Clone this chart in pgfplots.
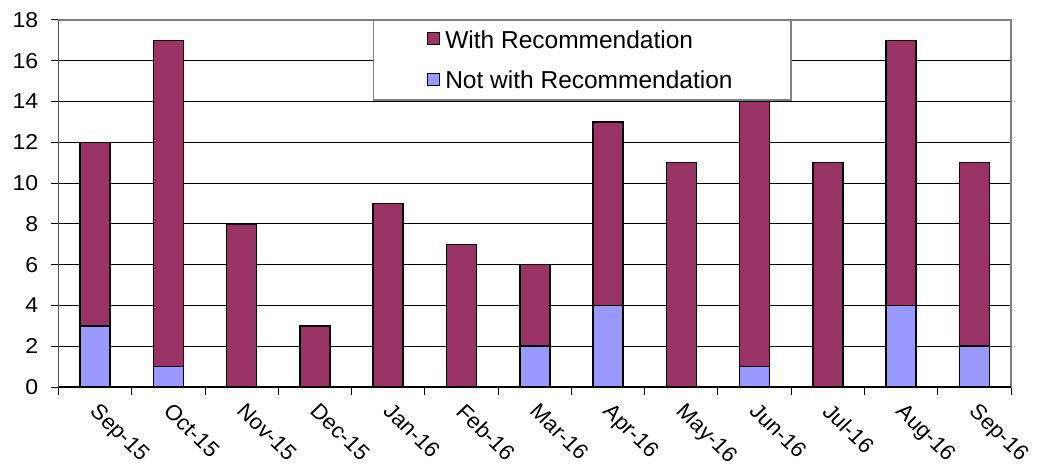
\documentclass[border=0pt]{standalone}
\usepackage{fontspec}
\setmainfont{Liberation Sans}
\usepackage{pgfplots}
\pgfplotsset{compat=1.18}
\definecolor{wrec}{HTML}{993366}
\definecolor{nrec}{HTML}{9999FF}
\begin{document}
\begin{tikzpicture}
\begin{axis}[
  scale only axis, width=952.5bp, height=367bp,
  xmin=-0.5, xmax=12.5, ymin=0, ymax=18,
  ybar stacked, bar width=30bp,
  ytick={0,2,...,18},
  xtick={-0.5,0.5,...,12.5}, xticklabels={},
  extra x ticks={0,1,2,3,4,5,6,7,8,9,10,11,12},
  extra x tick labels={Sep-15,Oct-15,Nov-15,Dec-15,Jan-16,Feb-16,Mar-16,Apr-16,May-16,Jun-16,Jul-16,Aug-16,Sep-16},
  extra x tick style={major tick length=0pt},
  tick align=outside, tick pos=left, major tick length=8bp,
  tick style={black, line width=1bp},
  ymajorgrids, grid style={black, line width=0.8bp},
  axis line style={draw=gray, line width=1.5bp},
  /pgf/number format/assume math mode=true,
  tick label style={font=\fontsize{21.5bp}{26bp}\selectfont},
  xticklabel style={xshift=5bp, yshift=-15bp, xscale=1.05, rotate=-45, anchor=north west, inner sep=0pt},
  yticklabel style={xshift=-8.5bp, xscale=1.07},
  legend style={at={(0.33,1)}, anchor=north west, draw=gray, line width=1.5bp, fill=white,
    font=\fontsize{24.5bp}{29bp}\selectfont, inner xsep=53.5bp, inner ysep=8bp, row sep=17bp,
    cells={anchor=west}, nodes={inner ysep=2bp, inner xsep=5bp}},
  reverse legend,
  legend image code/.code={\draw[#1,draw=black,line width=1.2bp] (0bp,-4.5bp) rectangle (12bp,7.5bp);},
]
\addplot[fill=nrec, draw=black, line width=1.5bp] coordinates {(0,3) (1,1) (2,0) (3,0) (4,0) (5,0) (6,2) (7,4) (8,0) (9,1) (10,0) (11,4) (12,2)};
\addlegendentry{Not with Recommendation}
\addplot[fill=wrec, draw=black, line width=1.5bp] coordinates {(0,9) (1,16) (2,8) (3,3) (4,9) (5,7) (6,4) (7,9) (8,11) (9,13) (10,11) (11,13) (12,9)};
\addlegendentry{With Recommendation}
\draw[black, line width=1.3bp] (rel axis cs:0,1) -- (rel axis cs:0,0) -- (rel axis cs:1,0);
\end{axis}
\pgfresetboundingbox
\path (-58.5bp,-83bp) rectangle (985.5bp,387bp);
\end{tikzpicture}
\end{document}
